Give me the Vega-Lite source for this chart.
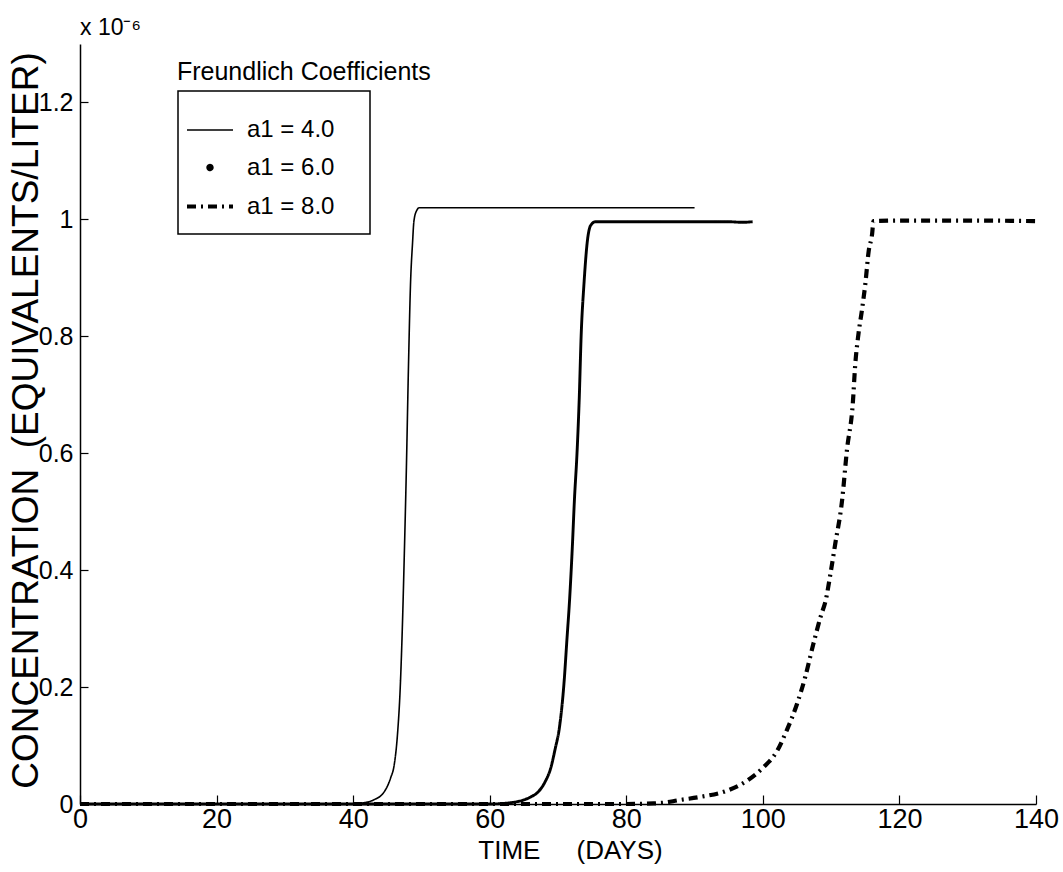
{
  "$schema": "https://vega.github.io/schema/vega-lite/v6.json",
  "width": 956,
  "height": 760,
  "autosize": {"type": "none"},
  "padding": {"left": 80, "top": 44, "right": 27, "bottom": 68},
  "background": "white",
  "title": {"text": "x 10⁻⁶", "anchor": "start", "frame": "group", "font": "Liberation Sans", "fontSize": 23, "fontWeight": "normal", "color": "black", "baseline": "alphabetic", "offset": 9, "dy": 23},
  "config": {"view": {"stroke": null}},
  "datasets": {
    "curves": [
      {"series": "a1 = 4.0", "day": 0, "c": 0},
      {"series": "a1 = 4.0", "day": 10, "c": 0},
      {"series": "a1 = 4.0", "day": 20, "c": 0},
      {"series": "a1 = 4.0", "day": 30, "c": 0},
      {"series": "a1 = 4.0", "day": 40, "c": 0},
      {"series": "a1 = 4.0", "day": 41.5, "c": 0.002},
      {"series": "a1 = 4.0", "day": 43, "c": 0.007},
      {"series": "a1 = 4.0", "day": 44.5, "c": 0.02},
      {"series": "a1 = 4.0", "day": 45.5, "c": 0.045},
      {"series": "a1 = 4.0", "day": 46, "c": 0.066},
      {"series": "a1 = 4.0", "day": 46.5, "c": 0.12},
      {"series": "a1 = 4.0", "day": 46.9, "c": 0.2},
      {"series": "a1 = 4.0", "day": 47.2, "c": 0.3},
      {"series": "a1 = 4.0", "day": 47.5, "c": 0.43},
      {"series": "a1 = 4.0", "day": 47.8, "c": 0.576},
      {"series": "a1 = 4.0", "day": 48.1, "c": 0.747},
      {"series": "a1 = 4.0", "day": 48.4, "c": 0.889},
      {"series": "a1 = 4.0", "day": 48.7, "c": 0.96},
      {"series": "a1 = 4.0", "day": 48.9, "c": 0.997},
      {"series": "a1 = 4.0", "day": 49.3, "c": 1.015},
      {"series": "a1 = 4.0", "day": 49.7, "c": 1.02},
      {"series": "a1 = 4.0", "day": 70, "c": 1.02},
      {"series": "a1 = 4.0", "day": 90, "c": 1.02},
      {"series": "a1 = 6.0", "day": 0, "c": 0},
      {"series": "a1 = 6.0", "day": 20, "c": 0},
      {"series": "a1 = 6.0", "day": 40, "c": 0},
      {"series": "a1 = 6.0", "day": 60, "c": 0},
      {"series": "a1 = 6.0", "day": 62, "c": 0.001},
      {"series": "a1 = 6.0", "day": 64, "c": 0.004},
      {"series": "a1 = 6.0", "day": 65, "c": 0.007},
      {"series": "a1 = 6.0", "day": 66, "c": 0.012},
      {"series": "a1 = 6.0", "day": 67.2, "c": 0.022},
      {"series": "a1 = 6.0", "day": 68.2, "c": 0.04},
      {"series": "a1 = 6.0", "day": 68.9, "c": 0.06},
      {"series": "a1 = 6.0", "day": 69.6, "c": 0.095},
      {"series": "a1 = 6.0", "day": 70.2, "c": 0.13},
      {"series": "a1 = 6.0", "day": 70.9, "c": 0.21},
      {"series": "a1 = 6.0", "day": 71.3, "c": 0.28},
      {"series": "a1 = 6.0", "day": 71.7, "c": 0.35},
      {"series": "a1 = 6.0", "day": 72.1, "c": 0.44},
      {"series": "a1 = 6.0", "day": 72.4, "c": 0.519},
      {"series": "a1 = 6.0", "day": 72.8, "c": 0.604},
      {"series": "a1 = 6.0", "day": 73.1, "c": 0.69},
      {"series": "a1 = 6.0", "day": 73.4, "c": 0.804},
      {"series": "a1 = 6.0", "day": 73.8, "c": 0.889},
      {"series": "a1 = 6.0", "day": 74.3, "c": 0.963},
      {"series": "a1 = 6.0", "day": 74.8, "c": 0.99},
      {"series": "a1 = 6.0", "day": 75.5, "c": 0.996},
      {"series": "a1 = 6.0", "day": 85, "c": 0.996},
      {"series": "a1 = 6.0", "day": 95, "c": 0.996},
      {"series": "a1 = 6.0", "day": 97, "c": 0.995},
      {"series": "a1 = 6.0", "day": 98.5, "c": 0.996},
      {"series": "a1 = 8.0", "day": 0, "c": 0},
      {"series": "a1 = 8.0", "day": 40, "c": 0},
      {"series": "a1 = 8.0", "day": 80, "c": 0},
      {"series": "a1 = 8.0", "day": 84, "c": 0.001},
      {"series": "a1 = 8.0", "day": 86, "c": 0.003},
      {"series": "a1 = 8.0", "day": 87.4, "c": 0.006},
      {"series": "a1 = 8.0", "day": 90.8, "c": 0.012},
      {"series": "a1 = 8.0", "day": 94.8, "c": 0.023},
      {"series": "a1 = 8.0", "day": 97.7, "c": 0.04},
      {"series": "a1 = 8.0", "day": 100.1, "c": 0.063},
      {"series": "a1 = 8.0", "day": 102.1, "c": 0.091},
      {"series": "a1 = 8.0", "day": 103.5, "c": 0.126},
      {"series": "a1 = 8.0", "day": 105.0, "c": 0.171},
      {"series": "a1 = 8.0", "day": 106.2, "c": 0.217},
      {"series": "a1 = 8.0", "day": 107.4, "c": 0.274},
      {"series": "a1 = 8.0", "day": 108.5, "c": 0.322},
      {"series": "a1 = 8.0", "day": 109.2, "c": 0.348},
      {"series": "a1 = 8.0", "day": 109.9, "c": 0.394},
      {"series": "a1 = 8.0", "day": 110.6, "c": 0.445},
      {"series": "a1 = 8.0", "day": 111.6, "c": 0.519},
      {"series": "a1 = 8.0", "day": 112.3, "c": 0.604},
      {"series": "a1 = 8.0", "day": 113.2, "c": 0.69},
      {"series": "a1 = 8.0", "day": 113.5, "c": 0.747},
      {"series": "a1 = 8.0", "day": 114.0, "c": 0.804},
      {"series": "a1 = 8.0", "day": 114.5, "c": 0.844},
      {"series": "a1 = 8.0", "day": 115.0, "c": 0.889},
      {"series": "a1 = 8.0", "day": 115.5, "c": 0.946},
      {"series": "a1 = 8.0", "day": 116.0, "c": 0.975},
      {"series": "a1 = 8.0", "day": 116.2, "c": 0.997},
      {"series": "a1 = 8.0", "day": 120, "c": 0.998},
      {"series": "a1 = 8.0", "day": 130, "c": 0.998},
      {"series": "a1 = 8.0", "day": 140, "c": 0.997}
    ]
  },
  "layer": [
    {
      "data": {"name": "curves"},
      "mark": {"type": "line", "color": "black", "interpolate": "monotone", "strokeCap": "butt"},
      "encoding": {
        "x": {
          "field": "day", "type": "quantitative",
          "scale": {"domain": [0, 140], "nice": false, "zero": false},
          "axis": {
            "values": [0, 20, 40, 60, 80, 100, 120, 140], "format": "d", "grid": false,
            "tickSize": -9, "tickWidth": 1.2, "tickColor": "black",
            "domainColor": "black", "domainWidth": 1.5,
            "labelFont": "Liberation Sans", "labelFontSize": 27, "labelColor": "black",
            "labelPadding": 11, "labelFlush": false, "labelOverlap": false,
            "title": "TIME\u00a0\u00a0\u00a0\u00a0\u00a0(DAYS)",
            "titleFont": "Liberation Sans", "titleFontSize": 26, "titleFontWeight": "normal", "titleColor": "black",
            "titleX": 490, "titleY": 54, "titleBaseline": "alphabetic", "titleAlign": "center"
          }
        },
        "y": {
          "field": "c", "type": "quantitative",
          "scale": {"domain": [0, 1.3], "nice": false},
          "axis": {
            "values": [0, 0.2, 0.4, 0.6, 0.8, 1, 1.2], "format": "~g", "grid": false,
            "tickSize": -8, "tickWidth": 1.2, "tickColor": "black",
            "domainColor": "black", "domainWidth": 1.5,
            "labelFont": "Liberation Sans", "labelFontSize": 25, "labelColor": "black",
            "labelPadding": 15, "labelOverlap": false,
            "title": "CONCENTRATION\u00a0\u00a0(EQUIVALENTS/LITER)",
            "titleFont": "Liberation Sans", "titleFontSize": 37, "titleFontWeight": "normal", "titleColor": "black",
            "titleX": -43, "titleY": 376, "titleAngle": 270, "titleBaseline": "alphabetic", "titleAlign": "center"
          }
        },
        "detail": {"field": "series"},
        "strokeDash": {
          "field": "series", "type": "nominal",
          "scale": {"domain": ["a1 = 4.0", "a1 = 6.0", "a1 = 8.0"], "range": [[1, 0], [1, 0], [9, 5, 2, 5]]},
          "legend": {
            "title": null, "orient": "none", "legendX": 98, "legendY": 47,
            "strokeColor": "black", "padding": 15,
            "symbolType": "stroke", "symbolSize": 2116, "symbolStrokeWidth": 1.5, "symbolStrokeColor": "black",
            "labelFont": "Liberation Sans", "labelFontSize": 24, "labelColor": "black", "labelOffset": 3,
            "labelExpr": "datum.label + '\u00a0\u00a0\u00a0\u200b'",
            "rowPadding": 1,
            "encode": {
              "legend": {"update": {"strokeWidth": {"value": 1.5}}},
              "symbols": {"update": {
                "x": {"value": 17},
                "shape": {"signal": "datum.label === 'a1 = 6.0' ? 'circle' : 'stroke'"},
                "size": {"signal": "datum.label === 'a1 = 6.0' ? 20 : 2116"},
                "fill": {"signal": "datum.label === 'a1 = 6.0' ? 'black' : 'transparent'"},
                "stroke": {"value": "black"},
                "opacity": {"value": 1},
                "strokeWidth": {"signal": "datum.label === 'a1 = 6.0' ? 0 : 1.4"}
              }}
            }
          }
        },
        "strokeWidth": {
          "field": "series", "type": "ordinal",
          "scale": {"domain": ["a1 = 4.0", "a1 = 6.0", "a1 = 8.0"], "range": [1.6, 4.2, 1.9]},
          "legend": null
        }
      }
    },
    {
      "data": {"values": [{}]},
      "mark": {"type": "text", "text": "Freundlich Coefficients", "align": "left", "baseline": "alphabetic", "font": "Liberation Sans", "fontSize": 25, "color": "black"},
      "encoding": {
        "x": {"datum": 14.2, "type": "quantitative"},
        "y": {"datum": 1.238, "type": "quantitative"}
      }
    }
  ]
}
